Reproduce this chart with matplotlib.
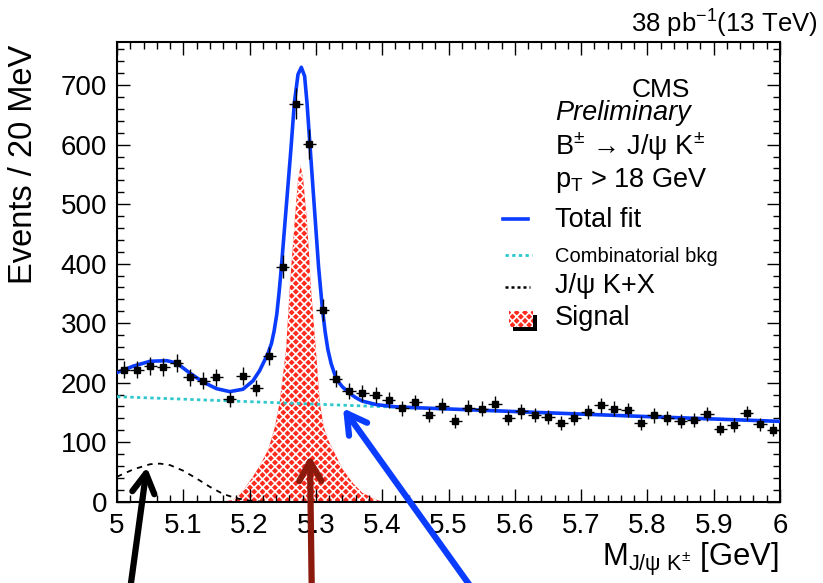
import numpy as np
import matplotlib
matplotlib.use('Agg')
import matplotlib.pyplot as plt
from matplotlib.patches import Rectangle
from matplotlib.lines import Line2D
from matplotlib.ticker import MultipleLocator, FuncFormatter

plt.rcParams['font.family'] = ['Liberation Sans', 'DejaVu Sans']
plt.rcParams['mathtext.fontset'] = 'custom'
plt.rcParams['mathtext.rm'] = 'Liberation Sans'
plt.rcParams['mathtext.it'] = 'Liberation Sans:italic'
plt.rcParams['mathtext.sf'] = 'Liberation Sans'
plt.rcParams['hatch.linewidth'] = 1.2

# data points (20 MeV bins)
mass = [5.01, 5.03, 5.05, 5.07, 5.09, 5.11, 5.13, 5.15, 5.17, 5.19,
        5.21, 5.23, 5.25, 5.27, 5.29, 5.31, 5.33, 5.35, 5.37, 5.39,
        5.41, 5.43, 5.45, 5.47, 5.49, 5.51, 5.53, 5.55, 5.57, 5.59,
        5.61, 5.63, 5.65, 5.67, 5.69, 5.71, 5.73, 5.75, 5.77, 5.79,
        5.81, 5.83, 5.85, 5.87, 5.89, 5.91, 5.93, 5.95, 5.97, 5.99]
events = [222, 222, 228, 226, 233, 209, 203, 209, 172, 211,
          191, 245, 395, 669, 601, 322, 207, 186, 182, 180,
          171, 157, 167, 146, 161, 136, 158, 156, 164, 140,
          152, 146, 142, 132, 140, 151, 162, 156, 154, 132,
          145, 141, 136, 137, 147, 123, 129, 149, 130, 121]

# total fit curve
fit_x = [5.00, 5.025, 5.05, 5.075, 5.09, 5.11, 5.13, 5.15, 5.17, 5.19,
         5.205, 5.215, 5.222, 5.228, 5.233, 5.237, 5.241, 5.2445, 5.248, 5.254,
         5.2625, 5.2675, 5.273, 5.278, 5.283, 5.2866, 5.291, 5.297, 5.304, 5.310,
         5.314, 5.318, 5.323, 5.329, 5.335, 5.340, 5.351, 5.360, 5.370, 5.392,
         5.42, 5.45, 5.60, 5.80, 6.00]
fit_y = [217, 228, 236, 237, 233, 216, 201, 190, 185, 189,
         203, 220, 236, 250, 266, 287, 315, 352, 395, 478,
         595, 670, 718, 730, 715, 670, 600, 505, 395, 322,
         285, 256, 232, 212, 200, 193, 182, 175, 169, 163,
         159.5, 158, 151.5, 143, 135]

# combinatorial background
bkg_x = [5.0, 5.25, 5.5, 5.75, 6.0]
bkg_y = [176.5, 166, 155.5, 145, 134.5]

# J/psi K + X
jkx_x = [5.0, 5.025, 5.05, 5.065, 5.08, 5.10, 5.12, 5.14, 5.16, 5.18, 5.20, 5.22]
jkx_y = [42, 54.5, 63, 64, 61.5, 52, 39, 25, 13, 5.7, 1.7, 0]

# signal
sig_x = [5.16, 5.175, 5.19, 5.205, 5.215, 5.228, 5.238, 5.245, 5.25, 5.255,
         5.261, 5.265, 5.2685, 5.273, 5.277, 5.281, 5.286, 5.29, 5.292, 5.296,
         5.300, 5.306, 5.312, 5.318, 5.326, 5.34, 5.356, 5.37, 5.392, 5.40]
sig_y = [0, 3, 18, 42, 60, 87, 125, 165, 210, 255,
         367, 427, 479, 540, 565, 540, 479, 410, 367, 311,
         255, 165, 125, 105, 87, 55, 31, 15, 3, 0]

W, H = 823, 583
fig = plt.figure(figsize=(W / 100, H / 100), dpi=100)
ax = fig.add_axes([117 / W, 81.3 / H, 663 / W, 460 / H])

def fx(px):
    return px / W

def fy(py):
    return 1 - py / H

red = '#ff2a1e'
blue = '#0a3cff'
cyan = '#2ec8cc'

ax.fill_between(sig_x, sig_y, 0, facecolor=red, edgecolor='white', hatch='xxxx',
                linewidth=0, zorder=1)
ax.plot(bkg_x, bkg_y, color=cyan, lw=2, ls=(0, (1.2, 1.2)), zorder=3)
ax.plot(jkx_x, jkx_y, color='black', lw=1.3, ls=(0, (3, 3)), zorder=3)
ax.plot(fit_x, fit_y, color=blue, lw=2.6, zorder=4)
ax.errorbar(mass, events, yerr=np.sqrt(events), xerr=0.01, fmt='s', color='black',
            ms=4.5, elinewidth=1, capsize=0, zorder=5)

ax.set_xlim(5, 6)
ax.set_ylim(0, 773)
ax.xaxis.set_major_locator(MultipleLocator(0.1))
ax.xaxis.set_minor_locator(MultipleLocator(0.02))
ax.yaxis.set_major_locator(MultipleLocator(100))
ax.yaxis.set_minor_locator(MultipleLocator(20))
ax.xaxis.set_major_formatter(FuncFormatter(lambda v, p: '%g' % round(v, 2)))
ax.tick_params(which='both', direction='in', top=True, right=True, width=1,
               labelsize=20)
ax.tick_params(which='major', length=9.5)
ax.tick_params(which='minor', length=5)
ax.tick_params(axis='x', pad=8)
ax.tick_params(axis='y', pad=7)
for s in ax.spines.values():
    s.set_linewidth(1.5)

# axis titles
fig.text(fx(24), fy(164), 'Events / 20 MeV', rotation=90, ha='center', va='center',
         fontsize=23.5)
fig.text(fx(779), fy(566), r'M$_{\mathregular{J/ψ\ K^{\pm}}}$ [GeV]', ha='right',
         va='baseline', fontsize=22.3)
fig.text(fx(818), fy(33), r'38 pb$^{\mathregular{-1}}$(13 TeV)', ha='right',
         va='baseline', fontsize=18.5)

# labels block
fig.text(fx(690), fy(97), 'CMS', ha='right', va='baseline', fontsize=19)
fig.text(fx(555), fy(120), 'Preliminary', ha='left', va='baseline', fontsize=19.5,
         style='italic')
fig.text(fx(555), fy(155), r'B$^{\pm}$ → J/ψ K$^{\pm}$', ha='left',
         va='baseline', fontsize=19.5)
fig.text(fx(555), fy(187), r'p$_{\mathregular{T}}$ > 18 GeV', ha='left',
         va='baseline', fontsize=19.5)
fig.text(fx(555), fy(227), 'Total fit', ha='left', va='baseline', fontsize=19.5)
fig.text(fx(555), fy(262), 'Combinatorial bkg', ha='left', va='baseline',
         fontsize=14.5)
fig.text(fx(555), fy(293), 'J/ψ K+X', ha='left', va='baseline', fontsize=19.5)
fig.text(fx(555), fy(325), 'Signal', ha='left', va='baseline', fontsize=19.5)

fig.add_artist(Line2D([fx(503), fx(528)], [fy(219), fy(219)], color=blue, lw=2.6))
fig.add_artist(Line2D([fx(505), fx(532)], [fy(255), fy(255)], color=cyan, lw=2,
                      ls=(0, (1.2, 1.2))))
fig.add_artist(Line2D([fx(505), fx(530)], [fy(287), fy(287)], color='black', lw=1.8,
                      ls=(0, (1.2, 1.2))))
fig.add_artist(Rectangle((fx(513), fy(331)), 24 / W, 16 / H, facecolor='black',
                         edgecolor='none', transform=fig.transFigure))
fig.add_artist(Rectangle((fx(509), fy(327)), 24 / W, 16 / H, facecolor=red,
                         edgecolor='white', hatch='xxxx', linewidth=0,
                         transform=fig.transFigure))

# arrows
arrow_kw = dict(lw=4.5, shrinkA=0, shrinkB=0, mutation_scale=20)
ax.annotate('', xy=(5.045, 58), xytext=(5.017, -170), annotation_clip=False,
            arrowprops=dict(arrowstyle='->,head_length=0.7,head_width=0.4',
                            color='black', **arrow_kw))
ax.annotate('', xy=(5.291, 78), xytext=(5.294, -170), annotation_clip=False,
            arrowprops=dict(arrowstyle='->,head_length=0.7,head_width=0.4',
                            color='#8c1a0c', **arrow_kw))
ax.annotate('', xy=(5.341, 157), xytext=(5.551, -170), annotation_clip=False,
            arrowprops=dict(arrowstyle='->,head_length=0.7,head_width=0.4',
                            color=blue, **arrow_kw))

fig.savefig('out.png', dpi=100)
